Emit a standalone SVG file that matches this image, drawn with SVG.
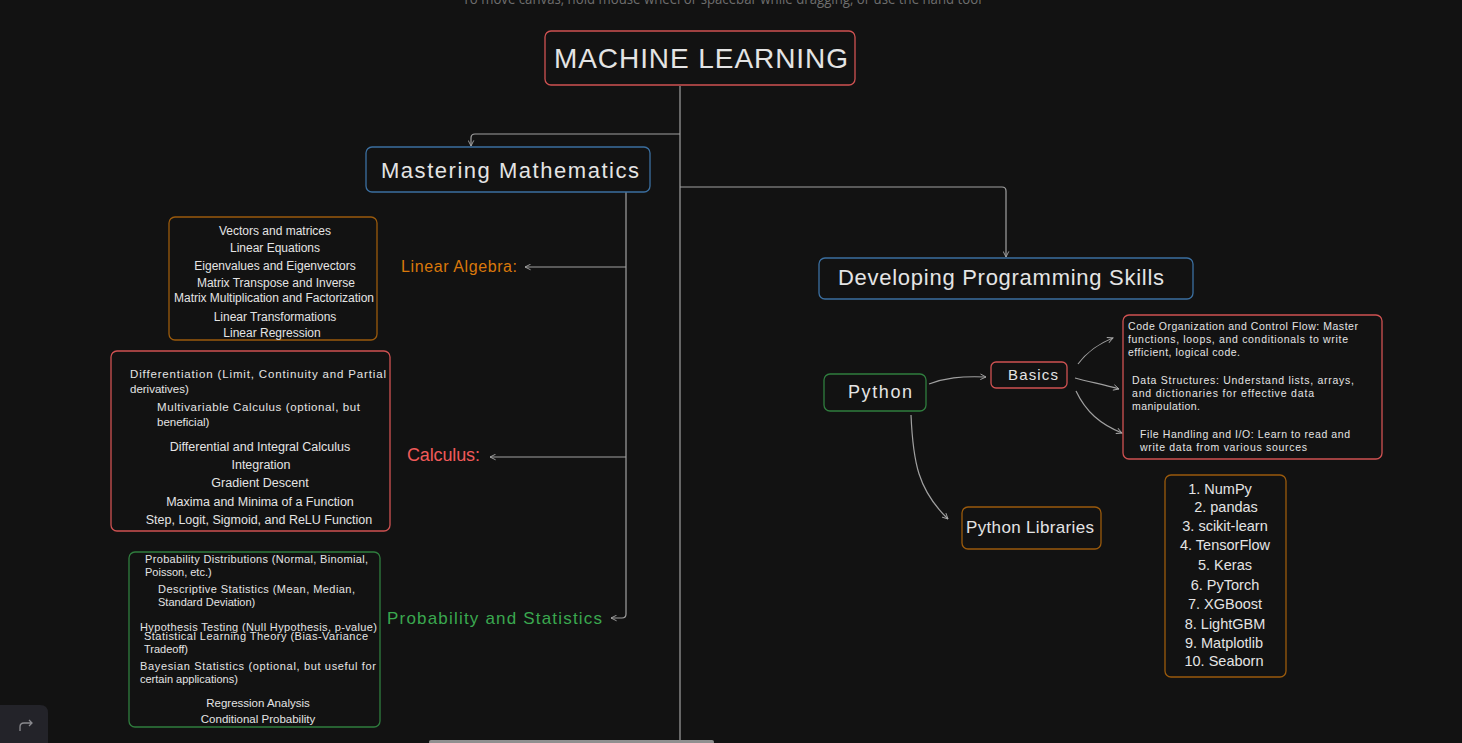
<svg xmlns="http://www.w3.org/2000/svg" width="1462" height="743" viewBox="0 0 1462 743">
<defs>
<marker id="arr" viewBox="0 0 10 10" refX="9" refY="5" markerWidth="7" markerHeight="7" orient="auto" markerUnits="userSpaceOnUse">
<path d="M1,1 L9,5 L1,9" fill="none" stroke="#a8a8a8" stroke-width="1.3"/>
</marker>
<style>
text{font-family:"Liberation Sans","Open Sans",sans-serif;fill:#e4e4e4}
.box{fill:#121212;stroke-width:1.3}
.red{stroke:#cf5252}
.blue{stroke:#3b6fa0}
.orange{stroke:#9a5a0c}
.green{stroke:#2f7d3e}
.conn{fill:none;stroke:#a0a0a0;stroke-width:1.2}
.s11{font-size:11px}
.s12{font-size:12px}
.s125{font-size:12.5px}
.s115{font-size:11.5px}
.s105{font-size:10.5px}
.s14{font-size:14.5px}
.mid{text-anchor:middle}
</style>
</defs>
<rect width="1462" height="743" fill="#121212"/>
<text x="722" y="4" font-size="14" text-anchor="middle" style="fill:#6e6e6e;font-family:'Open Sans','Liberation Sans',sans-serif" textLength="519" lengthAdjust="spacingAndGlyphs">To move canvas, hold mouse wheel or spacebar while dragging, or use the hand tool</text>

<g id="connectors">
<path class="conn" d="M680,86 V741"/>
<path class="conn" d="M680,134 H475 Q471,134 471,138 V146" marker-end="url(#arr)"/>
<path class="conn" d="M680,187 H1002 Q1006,187 1006,191 V257" marker-end="url(#arr)"/>
<path class="conn" d="M626,192 V614 Q626,618 622,618 H611" marker-end="url(#arr)"/>
<path class="conn" d="M626,267 H525" marker-end="url(#arr)"/>
<path class="conn" d="M626,457 H490" marker-end="url(#arr)"/>
<path class="conn" d="M929,384 C945,378 960,376 986,377" marker-end="url(#arr)"/>
<path class="conn" d="M1078,364 C1088,351 1098,344 1113,338" marker-end="url(#arr)"/>
<path class="conn" d="M1075,378 C1090,382 1105,385 1119,389" marker-end="url(#arr)"/>
<path class="conn" d="M1076,391 C1086,412 1100,424 1122,433" marker-end="url(#arr)"/>
<path class="conn" d="M911,415 C913,462 918,490 948,519" marker-end="url(#arr)"/>
</g>

<g id="ml">
<rect class="box red" x="545" y="31" width="310" height="54" rx="6"/>
<text x="701" y="68" font-size="28" text-anchor="middle" textLength="294" lengthAdjust="spacing">MACHINE LEARNING</text>
</g>

<g id="math">
<rect class="box blue" x="366" y="147" width="284" height="45" rx="6"/>
<text x="510" y="178" font-size="22" text-anchor="middle" textLength="258" lengthAdjust="spacing">Mastering Mathematics</text>
</g>

<g id="linear-algebra-label">
<text x="401" y="272" font-size="16" style="fill:#d9780b" textLength="116" lengthAdjust="spacing">Linear Algebra:</text>
</g>
<g id="linear-algebra-items">
<rect class="box orange" x="169" y="217" width="208" height="123" rx="6"/>
<text class="s12 mid" x="275" y="235">Vectors and matrices</text>
<text class="s12 mid" x="275" y="252">Linear Equations</text>
<text class="s12 mid" x="275" y="270">Eigenvalues and Eigenvectors</text>
<text class="s12 mid" x="276" y="287">Matrix Transpose and Inverse</text>
<text class="s12 mid" x="274" y="302" textLength="200">Matrix Multiplication and Factorization</text>
<text class="s12 mid" x="275" y="321">Linear Transformations</text>
<text class="s12 mid" x="272" y="337">Linear Regression</text>
</g>

<g id="calculus-label">
<text x="407" y="461" font-size="18" style="fill:#f05a5a" textLength="73" lengthAdjust="spacing">Calculus:</text>
</g>
<g id="calculus-items">
<rect class="box red" x="111" y="351" width="279" height="180" rx="6"/>
<text class="s115" x="130" y="378" textLength="256">Differentiation (Limit, Continuity and Partial</text>
<text class="s115" x="130" y="393">derivatives)</text>
<text class="s115" x="157" y="411" textLength="203">Multivariable Calculus (optional, but</text>
<text class="s115" x="157" y="426">beneficial)</text>
<text class="s125 mid" x="260" y="451">Differential and Integral Calculus</text>
<text class="s125 mid" x="261" y="469">Integration</text>
<text class="s125 mid" x="260" y="487">Gradient Descent</text>
<text class="s125 mid" x="260" y="506">Maxima and Minima of a Function</text>
<text class="s125 mid" x="259" y="524">Step, Logit, Sigmoid, and ReLU Function</text>
</g>

<g id="prob-label">
<text x="387" y="624" font-size="17" style="fill:#3aa84f" textLength="215" lengthAdjust="spacing">Probability and Statistics</text>
</g>
<g id="prob-items">
<rect class="box green" x="129" y="552" width="251" height="175" rx="6"/>
<text class="s11" x="145" y="563" textLength="223">Probability Distributions (Normal, Binomial,</text>
<text class="s11" x="145" y="576">Poisson, etc.)</text>
<text class="s11" x="158" y="593" textLength="197">Descriptive Statistics (Mean, Median,</text>
<text class="s11" x="158" y="606">Standard Deviation)</text>
<text class="s11" x="140" y="631" textLength="237">Hypothesis Testing (Null Hypothesis, p-value)</text>
<text class="s11" x="144" y="640" textLength="224">Statistical Learning Theory (Bias-Variance</text>
<text class="s11" x="144" y="653">Tradeoff)</text>
<text class="s11" x="140" y="670" textLength="236">Bayesian Statistics (optional, but useful for</text>
<text class="s11" x="140" y="683">certain applications)</text>
<text class="s115 mid" x="258" y="707">Regression Analysis</text>
<text class="s115 mid" x="258" y="723">Conditional Probability</text>
</g>

<g id="programming">
<rect class="box blue" x="819" y="258" width="374" height="41" rx="6"/>
<text x="1001" y="285" font-size="22" text-anchor="middle" textLength="326" lengthAdjust="spacing">Developing Programming Skills</text>
</g>

<g id="python">
<rect class="box green" x="824" y="374" width="102" height="37" rx="6"/>
<text x="880" y="398" font-size="18" text-anchor="middle" textLength="64" lengthAdjust="spacing">Python</text>
</g>

<g id="basics">
<rect class="box red" x="991" y="362" width="76" height="26" rx="5"/>
<text x="1033" y="380" font-size="15" text-anchor="middle" textLength="50" lengthAdjust="spacing">Basics</text>
</g>

<g id="basics-details">
<rect class="box red" x="1123" y="315" width="259" height="144" rx="6"/>
<text class="s105" x="1128" y="330" textLength="230">Code Organization and Control Flow: Master</text>
<text class="s105" x="1128" y="343" textLength="220">functions, loops, and conditionals to write</text>
<text class="s105" x="1128" y="356" textLength="112">efficient, logical code.</text>
<text class="s105" x="1132" y="384" textLength="222">Data Structures: Understand lists, arrays,</text>
<text class="s105" x="1132" y="397" textLength="182">and dictionaries for effective data</text>
<text class="s105" x="1132" y="410" textLength="68">manipulation.</text>
<text class="s105" x="1140" y="438" textLength="210">File Handling and I/O: Learn to read and</text>
<text class="s105" x="1140" y="451" textLength="167">write data from various sources</text>
</g>

<g id="python-libraries">
<rect class="box orange" x="962" y="507" width="139" height="42" rx="6"/>
<text x="1030" y="533" font-size="17" text-anchor="middle" textLength="128" lengthAdjust="spacing">Python Libraries</text>
</g>

<g id="library-list">
<rect class="box orange" x="1165" y="475" width="121" height="202" rx="6"/>
<text class="s14 mid" x="1220" y="494">1. NumPy</text>
<text class="s14 mid" x="1226" y="512">2. pandas</text>
<text class="s14 mid" x="1225" y="531">3. scikit-learn</text>
<text class="s14 mid" x="1225" y="550">4. TensorFlow</text>
<text class="s14 mid" x="1225" y="570">5. Keras</text>
<text class="s14 mid" x="1225" y="590">6. PyTorch</text>
<text class="s14 mid" x="1225" y="609">7. XGBoost</text>
<text class="s14 mid" x="1225" y="629">8. LightGBM</text>
<text class="s14 mid" x="1224" y="648">9. Matplotlib</text>
<text class="s14 mid" x="1224" y="666">10. Seaborn</text>
</g>

<g id="ui">
<rect x="429" y="740" width="285" height="4" rx="2" fill="#8f8f8f"/>
<path d="M0,705 H40 Q48,705 48,713 V743 H0 Z" fill="#232329"/>
<path d="M20,731 V727 Q20,723 24,723 H32 M29,720 L32,723 L29,726" fill="none" stroke="#8a8a8f" stroke-width="1.3"/>
</g>
</svg>
